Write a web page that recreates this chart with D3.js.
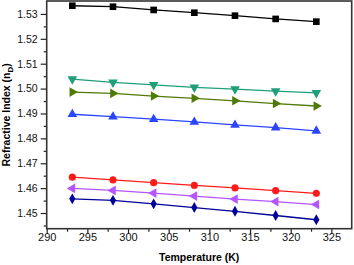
<!DOCTYPE html>
<html>
<head>
<meta charset="utf-8">
<script src="https://cdn.jsdelivr.net/npm/d3@7"></script>
<style>
  body { margin: 0; background: #fff; }
  text { font-family: Arial, "Liberation Sans", sans-serif; }
</style>
</head>
<body>
<div id="chart"></div>
<script>
// data
const temps = [293.15, 298.15, 303.15, 308.15, 313.15, 318.15, 323.15];
const blackSq = [1.5333, 1.5329, 1.5316, 1.5305, 1.5293, 1.5280, 1.5269];
const tealDown = [1.5038, 1.5025, 1.5015, 1.5005, 1.4998, 1.4990, 1.4983];
const oliveRight = [1.4986, 1.4981, 1.4970, 1.4961, 1.4951, 1.4940, 1.4930];
const blueUp = [1.4897, 1.4887, 1.4877, 1.4866, 1.4854, 1.4843, 1.4830];
const redCircle = [1.4644, 1.4633, 1.4622, 1.4611, 1.4601, 1.4590, 1.4579];
const purpleLeft = [1.4599, 1.4591, 1.4580, 1.4568, 1.4556, 1.4546, 1.4534];
const navyDiamond = [1.4557, 1.4551, 1.4537, 1.4522, 1.4507, 1.4490, 1.4473];
const xTicks = [290, 295, 300, 305, 310, 315, 320, 325];
const yTicks = [1.45, 1.46, 1.47, 1.48, 1.49, 1.50, 1.51, 1.52, 1.53];

const FRAME_WIDTH = 354;
const FRAME_HEIGHT = 265;
const MARGINS = {left: 46.7, right: 2.3, top: 1, bottom: 36.3};

const series = [
  {vals: blackSq, color: "#000000", sym: d3.symbolSquare, size: 44, rot: 0},
  {vals: tealDown, color: "#1f9e7a", sym: d3.symbolTriangle, size: 40, rot: 180},
  {vals: oliveRight, color: "#4f7a05", sym: d3.symbolTriangle, size: 40, rot: 90},
  {vals: blueUp, color: "#2a45ff", sym: d3.symbolTriangle, size: 40, rot: 0},
  {vals: redCircle, color: "#ff1a1a", sym: d3.symbolCircle, size: 40, rot: 0},
  {vals: purpleLeft, color: "#b455ff", sym: d3.symbolTriangle, size: 40, rot: -90},
  {vals: navyDiamond, color: "#00009a", sym: d3.symbolDiamond, size: 34, rot: 0}
];

const svg = d3.select("#chart")
  .append("svg")
    .attr("width", FRAME_WIDTH)
    .attr("height", FRAME_HEIGHT);

const x = d3.scaleLinear()
  .domain([290, 327.5])
  .range([MARGINS.left, FRAME_WIDTH - MARGINS.right]);

const y = d3.scaleLinear()
  .domain([1.4437, 1.5352])
  .range([FRAME_HEIGHT - MARGINS.bottom, MARGINS.top]);

// minor ticks
svg.append("g")
  .attr("transform", `translate(0,${FRAME_HEIGHT - MARGINS.bottom})`)
  .call(d3.axisBottom(x).tickValues(xTicks.map(t => t + 2.5).filter(t => t < 327.5)).tickSize(3).tickFormat(""))
  .call(g => g.select(".domain").remove());

svg.append("g")
  .attr("transform", `translate(${MARGINS.left},0)`)
  .call(d3.axisLeft(y).tickValues(yTicks.map(t => t - 0.005)).tickSize(3).tickFormat(""))
  .call(g => g.select(".domain").remove());

// major axes
const xAxis = svg.append("g")
  .attr("transform", `translate(0,${FRAME_HEIGHT - MARGINS.bottom})`)
  .call(d3.axisBottom(x).tickValues(xTicks).tickSize(5).tickPadding(0).tickSizeOuter(0).tickFormat(d3.format("d")));
xAxis.selectAll("text").attr("font-size", 11).attr("fill", "#111");

const yAxis = svg.append("g")
  .attr("transform", `translate(${MARGINS.left},0)`)
  .call(d3.axisLeft(y).tickValues(yTicks).tickSize(6).tickPadding(3).tickSizeOuter(0).tickFormat(d3.format(".2f")));
yAxis.selectAll("text").attr("font-size", 10.5).attr("fill", "#111");

svg.selectAll(".tick line").attr("stroke", "#222").attr("stroke-width", 1.2);
svg.selectAll(".domain").remove();

// frame
svg.append("rect")
  .attr("x", MARGINS.left)
  .attr("y", MARGINS.top)
  .attr("width", FRAME_WIDTH - MARGINS.left - MARGINS.right)
  .attr("height", FRAME_HEIGHT - MARGINS.top - MARGINS.bottom)
  .attr("fill", "none")
  .attr("stroke", "#333")
  .attr("stroke-width", 1.6);

// lines and markers
const line = d3.line()
  .x((d, i) => x(temps[i]))
  .y(d => y(d));

series.forEach(s => {
  svg.append("path")
    .datum(s.vals)
    .attr("d", line)
    .attr("fill", "none")
    .attr("stroke", s.color)
    .attr("stroke-width", 1.3);

  svg.selectAll(null)
    .data(s.vals)
    .enter()
    .append("path")
      .attr("d", d3.symbol().type(s.sym).size(s.size))
      .attr("transform", (d, i) => `translate(${x(temps[i])},${y(d)}) rotate(${s.rot})`)
      .attr("fill", s.color);
});

// axis titles
svg.append("text")
  .attr("x", (MARGINS.left + FRAME_WIDTH - MARGINS.right) / 2)
  .attr("y", 260.5)
  .attr("text-anchor", "middle")
  .attr("font-size", 10.5)
  .attr("font-weight", "bold")
  .text("Temperature (K)");

const yTitle = svg.append("text")
  .attr("transform", `translate(10,${(MARGINS.top + FRAME_HEIGHT - MARGINS.bottom) / 2}) rotate(-90)`)
  .attr("text-anchor", "middle")
  .attr("font-size", 10.5)
  .attr("font-weight", "bold");
yTitle.append("tspan").text("Refractive Index (n");
yTitle.append("tspan").attr("font-size", 8).attr("dy", 3).text("D");
yTitle.append("tspan").attr("dy", -3).text(")");
</script>
</body>
</html>
